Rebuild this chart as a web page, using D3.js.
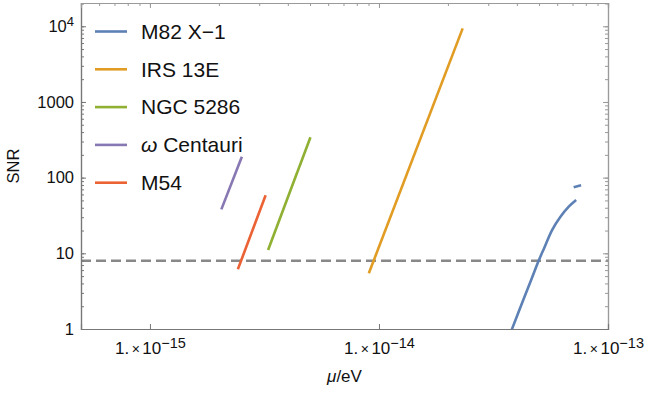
<!DOCTYPE html>
<html>
<head>
<meta charset="utf-8">
<script src="https://cdn.jsdelivr.net/npm/d3@7"></script>
<style>
body { margin: 0; background: #fff; }
text { font-family: "Liberation Sans", Arial, sans-serif; }
</style>
</head>
<body>
<svg class="snr" width="645" height="393"></svg>
<script>
var muTicks = [1e-15, 1e-14, 1e-13],
	snrTicks = [1, 10, 100, 1000, 10000],
	threshold = 8;
var seriesNames = ["M82 X\u22121", "IRS 13E", "NGC 5286", "\u03c9 Centauri", "M54"],
	seriesColors = ["#5e81b5", "#e19c24", "#8fb032", "#8778b3", "#eb6235"];
// M82 X-1 (curved), plus the short separate piece at its top end
var m82Mu = [3.795e-14, 4.265e-14, 4.618e-14, 4.984e-14, 5.256e-14, 5.70e-14, 6.20e-14, 6.74e-14, 7.26e-14],
	m82Snr = [0.97, 2.42, 4.44, 8.03, 11.6, 20.3, 30.4, 41.3, 50.6],
	m82TailMu = [7.08e-14, 7.63e-14],
	m82TailSnr = [74.5, 79.1];
var irsMu = [9.03e-15, 2.32e-14],
	irsSnr = [5.44, 9380];
var ngcMu = [3.28e-15, 5.02e-15],
	ngcSnr = [11.06, 341];
var omegaMu = [2.05e-15, 2.52e-15],
	omegaSnr = [38.1, 189];
var m54Mu = [2.42e-15, 3.2e-15],
	m54Snr = [6.15, 58.4];

var framecolor = "#777",
	framecolor2 = "#9a9a9a";
var svg = d3.select(".snr"),
	margin = {
		top: 3,
		right: 37,
		bottom: 64,
		left: 81
	},
	width = +svg.attr("width") - margin.left - margin.right,
	height = +svg.attr("height") - margin.top - margin.bottom,
	g = svg.append("g").attr("transform", "translate(" + margin.left + "," + margin.top + ")");
var x = d3.scaleLog()
	.domain([5e-16, 1e-13])
	.range([0, width]);
var y = d3.scaleLog()
	.domain([1, 2.03e4])
	.range([height, 0]);

function minors(lo, hi, domain) {
	var out = [];
	for (var k = lo; k <= hi; k++) {
		for (var m = 1; m <= 9; m++) {
			var v = m * Math.pow(10, k);
			if (v >= domain[0] * 0.999 && v <= domain[1] * 1.001) out.push(v);
		}
	}
	return out;
}
var xMinor = minors(-16, -14, x.domain()),
	yMinor = minors(0, 4, y.domain());

g.append("clipPath")
	.attr("id", "plotclip")
	.append("rect")
	.attr("width", width)
	.attr("height", height);

// threshold line
g.append("line")
	.attr("x1", 0)
	.attr("x2", width)
	.attr("y1", y(threshold))
	.attr("y2", y(threshold))
	.attr("stroke", "#888")
	.attr("stroke-width", 2.5)
	.attr("stroke-dasharray", "10,5");

var line = d3.line()
	.x(function(d) { return x(d[0]); })
	.y(function(d) { return y(d[1]); })
	.curve(d3.curveCatmullRom.alpha(0.5));

var series = [
	[m82Mu, m82Snr, 0],
	[m82TailMu, m82TailSnr, 0],
	[irsMu, irsSnr, 1],
	[ngcMu, ngcSnr, 2],
	[omegaMu, omegaSnr, 3],
	[m54Mu, m54Snr, 4]
];
series.forEach(function(s) {
	g.append("path")
		.datum(d3.zip(s[0], s[1]))
		.attr("clip-path", "url(#plotclip)")
		.attr("fill", "none")
		.attr("stroke", seriesColors[s[2]])
		.attr("stroke-width", 2.6)
		.attr("d", line);
});

// frame + ticks (pointing inward)
var leftAx = g.append("g").call(d3.axisLeft(y).tickValues(snrTicks).tickSize(-5).tickPadding(7));
var leftMinor = g.append("g").call(d3.axisLeft(y).tickValues(yMinor).tickSize(-3).tickFormat(""));
var rightAx = g.append("g").attr("transform", "translate(" + width + ",0)")
	.call(d3.axisRight(y).tickValues(snrTicks).tickSize(-5).tickFormat(""));
var rightMinor = g.append("g").attr("transform", "translate(" + width + ",0)")
	.call(d3.axisRight(y).tickValues(yMinor).tickSize(-3).tickFormat(""));
var botAx = g.append("g").attr("transform", "translate(0," + height + ")")
	.call(d3.axisBottom(x).tickValues(muTicks).tickSize(-5).tickPadding(13));
var topAx = g.append("g")
	.call(d3.axisTop(x).tickValues(muTicks).tickSize(-5).tickFormat(""));
var topMinor = g.append("g")
	.call(d3.axisTop(x).tickValues(xMinor).tickSize(-3).tickFormat(""));

[leftAx, leftMinor, botAx].forEach(function(a) {
	a.selectAll("line").style("stroke", framecolor);
	a.selectAll("path").style("stroke", framecolor).style("stroke-width", 1.2);
});
[rightAx, rightMinor, topAx, topMinor].forEach(function(a) {
	a.selectAll("line").style("stroke", framecolor2);
	a.selectAll("path").style("stroke", framecolor2).style("stroke-width", 1.2);
});

leftAx.selectAll("text")
	.style("fill", "#111")
	.style("font-size", "16.5px")
	.each(function(d) {
		var t = d3.select(this);
		if (d >= 10000) {
			t.text("");
			t.append("tspan").text("10");
			t.append("tspan").attr("dy", "-0.45em").style("font-size", "13px")
				.text(Math.round(Math.log10(d)));
		} else {
			t.text(d);
		}
	});

botAx.selectAll("text")
	.style("fill", "#111")
	.style("font-size", "17px")
	.each(function(d) {
		var t = d3.select(this);
		t.text("");
		t.append("tspan").text("1.");
		t.append("tspan").attr("dx", 2.5).style("font-size", "14px").text("\u00d7");
		t.append("tspan").attr("dx", 2.5).text("10");
		t.append("tspan").attr("dy", "-0.42em").style("font-size", "14.5px")
			.text("\u2212" + Math.abs(Math.round(Math.log10(d))));
	});

// axis titles
g.append("text")
	.attr("transform", "translate(" + (-62) + "," + (height / 2) + ") rotate(-90)")
	.attr("text-anchor", "middle")
	.style("font-size", "16.5px")
	.style("fill", "#111")
	.text("SNR");
var xt = g.append("text")
	.attr("x", width / 2)
	.attr("y", height + 53)
	.attr("text-anchor", "middle")
	.style("font-size", "17px")
	.style("fill", "#111");
xt.append("tspan").style("font-style", "italic").text("\u03bc");
xt.append("tspan").text("/eV");

// legend
var legend = g.selectAll(".legend")
	.data(seriesNames)
	.enter().append("g")
	.attr("transform", function(d, i) {
		return "translate(14," + (28.5 + i * 37.8) + ")";
	});
legend.append("line")
	.attr("x1", 0)
	.attr("x2", 32)
	.attr("stroke", function(d, i) { return seriesColors[i]; })
	.attr("stroke-width", 2.6);
legend.append("text")
	.attr("x", 46)
	.attr("dy", "0.35em")
	.style("font-size", "21px")
	.style("fill", "#111")
	.each(function(d) {
		var t = d3.select(this);
		if (d.charAt(0) == "\u03c9") {
			t.append("tspan").style("font-style", "italic").text("\u03c9");
			t.append("tspan").text(d.slice(1));
		} else {
			t.text(d);
		}
	});
</script>
</body>
</html>
